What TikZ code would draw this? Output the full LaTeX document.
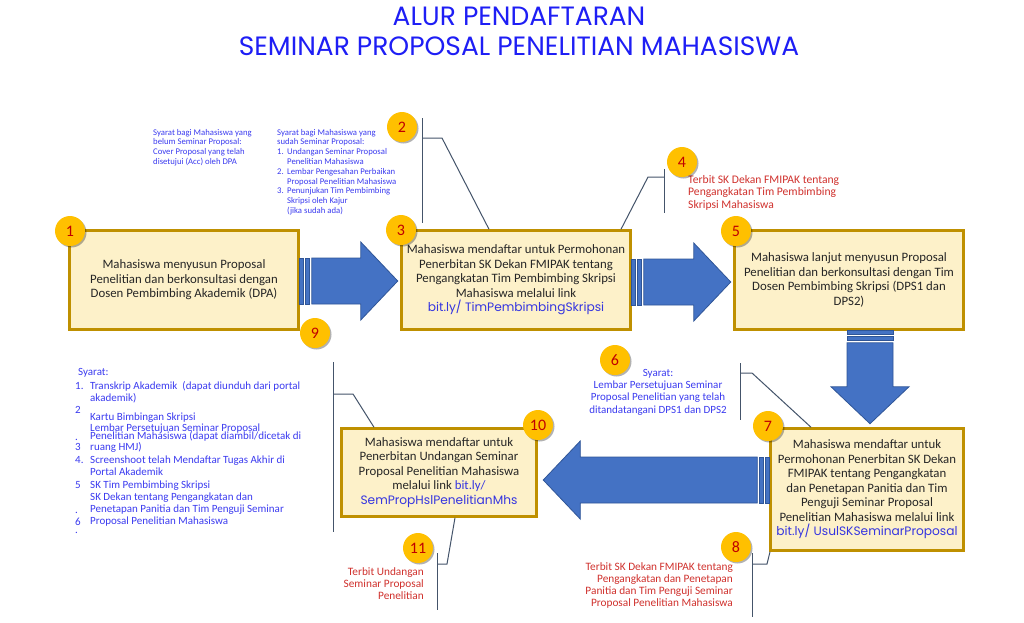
\documentclass[tikz,border=0pt]{standalone}
\usepackage{fontspec}
\setmainfont{Carlito}
\newfontfamily\titlefont{Poppins}
\usetikzlibrary{positioning}
\usetikzlibrary{shadows}
\usetikzlibrary{calc}
\usepackage{xcolor}

\definecolor{boxfill}{HTML}{FDF1C9}
\definecolor{boxline}{HTML}{BF9000}
\definecolor{arrowfill}{HTML}{4472C4}
\definecolor{arrowline}{HTML}{2F5597}
\definecolor{numfill}{HTML}{FFC000}
\definecolor{numtext}{HTML}{C00000}
\definecolor{notered}{HTML}{D0312D}
\definecolor{noteblue}{HTML}{3B3BF0}
\definecolor{linkblue}{HTML}{3535E0}
\definecolor{titleblue}{HTML}{1E1EF5}
\definecolor{calloutline}{HTML}{44546A}

\newcommand{\lnk}[1]{{\titlefont\fontsize{12.2}{14.5}\selectfont\color{linkblue}#1}}
% block arrow: start, rotation, length
\newcommand{\bigarrow}[3]{%
  \begin{scope}[shift={(#1)}, rotate=#2]
    \filldraw[arrowbody] (0,-23) rectangle (4,23);
    \filldraw[arrowbody] (6,-23) rectangle (10,23);
    \filldraw[arrowbody] (12,-23) -- (#3-37,-23) -- (#3-37,-39) -- (#3,0)
      -- (#3-37,39) -- (#3-37,23) -- (12,23) -- cycle;
  \end{scope}}

\begin{document}
\begin{tikzpicture}[x=1pt, y=-1pt,
    box/.style={rectangle, draw=boxline, line width=2.5pt, fill=boxfill, align=center,
      inner sep=0pt, text=black!85, font=\fontsize{12.8}{14.5}\selectfont},
    num/.style={circle, fill=numfill, minimum size=30pt, inner sep=0pt, text=numtext,
      font=\fontsize{16}{16}\selectfont,
      drop shadow={shadow xshift=1.5pt, shadow yshift=-1.5pt, opacity=0.3, fill=black}},
    note/.style={align=left, inner sep=0pt, text=noteblue, font=\fontsize{8.7}{9.8}\selectfont},
    rednote/.style={inner sep=0pt, text=notered, font=\fontsize{11.3}{12.2}\selectfont},
    title/.style={inner sep=0pt, text=titleblue, font=\titlefont\fontsize{26.5}{30}\selectfont},
    arrowbody/.style={fill=arrowfill, draw=arrowline, line width=0.8pt},
    callout/.style={draw=calloutline, line width=1pt}]
    \fill[white] (0,0) rectangle (1024,622);
    \useasboundingbox (0,0) rectangle (1024,622);

    \node[title, anchor=base] (t1) at (519,25) {ALUR PENDAFTARAN};
    \node[title, anchor=base] (t2) at (519,55) {SEMINAR PROPOSAL PENELITIAN MAHASISWA};

    % steps
    \node[box, minimum width=229pt, minimum height=99pt] (b1) at (184,280)
      {Mahasiswa menyusun Proposal\\Penelitian dan berkonsultasi dengan\\Dosen Pembimbing Akademik (DPA)};
    \node[box, minimum width=229pt, minimum height=99pt] (b3) at (516,280)
      {Mahasiswa mendaftar untuk Permohonan\\Penerbitan SK Dekan FMIPAK tentang\\Pengangkatan Tim Pembimbing Skripsi\\Mahasiswa melalui link\\\lnk{bit.ly/ TimPembimbingSkripsi}};
    \node[box, minimum width=229pt, minimum height=99pt] (b5) at (849,280)
      {Mahasiswa lanjut menyusun Proposal\\Penelitian dan berkonsultasi dengan Tim\\Dosen Pembimbing Skripsi (DPS1 dan\\DPS2)};
    \node[box, minimum width=193pt, minimum height=122pt] (b7) at (867,489.5)
      {Mahasiswa mendaftar untuk\\Permohonan Penerbitan SK Dekan\\FMIPAK tentang Pengangkatan\\dan Penetapan Panitia dan Tim\\Penguji Seminar Proposal\\Penelitian Mahasiswa melalui link\\\lnk{bit.ly/ UsulSKSeminarProposal}};
    \node[box, minimum width=195pt, minimum height=88pt] (b10) at (439,472.5)
      {Mahasiswa mendaftar untuk\\Penerbitan Undangan Seminar\\Proposal Penelitian Mahasiswa\\melalui link {\color{linkblue}bit.ly/}\\\lnk{SemPropHslPenelitianMhs}};

    % big arrows
    \bigarrow{b1.east |- 0,281}{0}{98}
    \bigarrow{b3.east |- 0,282}{0}{99}
    \bigarrow{b5.south -| 870,0}{-90}{93}
    \bigarrow{b7.west |- 0,480}{180}{226}

    % callouts
    \coordinate (c2) at (422,138);
    \draw[callout] ($(c2)+(0,-20)$) -- ($(c2)+(0,85)$);
    \draw[callout] (c2) -- ++(20,0) -- (b3.north -| 489,0);
    \coordinate (c4) at (664,177);
    \draw[callout] ($(c4)+(0,-8)$) -- ($(c4)+(0,36)$);
    \draw[callout] (c4) -- ++(-16,0) -- (b3.north -| 621,0);
    \coordinate (c9) at (333,394);
    \draw[callout] ($(c9)+(0,-32)$) -- ($(c9)+(0,138)$);
    \draw[callout] (c9) -- ++(20,0) -- (b10.north -| 374,0);
    \coordinate (c6) at (740,373);
    \draw[callout] ($(c6)+(0,-10)$) -- ($(c6)+(0,47)$);
    \draw[callout] (c6) -- ++(12,0) -- (b7.north -| 811,0);
    \coordinate (c8) at (752,564);
    \draw[callout] ($(c8)+(0,-11)$) -- ($(c8)+(0,53)$);
    \draw[callout] (c8) -- ++(15,0) -- (b7.south -| 770,0);
    \coordinate (c11) at (437,564);
    \draw[callout] ($(c11)+(0,-11)$) -- ($(c11)+(0,46)$);
    \draw[callout] (c11) -- ++(10,0) -- (b10.south -| 455,0);

    % notes (base = last line)
    \node[note, anchor=base west] (s1) at (153,164.4)
      {Syarat bagi Mahasiswa yang\\belum Seminar Proposal:\\Cover Proposal yang telah\\disetujui (Acc) oleh DPA};
    \node[note, anchor=base west] (s2) at (277,213.4)
      {Syarat bagi Mahasiswa yang\\sudah Seminar Proposal:\\
       \makebox[10pt][l]{1.}Undangan Seminar Proposal\\\hspace*{10pt}Penelitian Mahasiswa\\
       \makebox[10pt][l]{2.}Lembar Pengesahan Perbaikan\\\hspace*{10pt}Proposal Penelitian Mahasiswa\\
       \makebox[10pt][l]{3.}Penunjukan Tim Pembimbing\\\hspace*{10pt}Skripsi oleh Kajur\\\hspace*{10pt}(jika sudah ada)};
    \node[note, font=\fontsize{11}{12}\selectfont, anchor=base west] (s9) at (78,375) {Syarat:};
    \node[note, font=\fontsize{11}{12}\selectfont, anchor=base west] (s9n) at (75,533)
      {1.\\[12pt]2\\[15pt].\\[-2pt]3\\[1pt]4.\\[13pt]5\\[13pt].\\6\\[-4pt].};
    \node[note, font=\fontsize{11}{12}\selectfont, anchor=base west] (s9t) at (90,524)
      {Transkrip Akademik\ \ (dapat diunduh dari portal\\akademik)\\[7pt]Kartu Bimbingan Skripsi\\[-1pt]
       Lembar Persetujuan Seminar Proposal\\[-4pt]Penelitian Mahasiswa (dapat diambil/dicetak di\\[-1pt]
       ruang HMJ)\\[1pt]Screenshoot telah Mendaftar Tugas Akhir di\\Portal Akademik\\[1pt]
       SK Tim Pembimbing Skripsi\\SK Dekan tentang Pengangkatan dan\\Penetapan Panitia dan Tim Penguji Seminar\\
       Proposal Penelitian Mahasiswa};
    \node[note, align=center, font=\fontsize{11}{12.3}\selectfont, anchor=base] (s6) at (658,413)
      {Syarat:\\Lembar Persetujuan Seminar\\Proposal Penelitian yang telah\\ditandatangani DPS1 dan DPS2};
    \node[rednote, align=left, font=\fontsize{11.6}{12.5}\selectfont, anchor=base west] (r4) at (688,208)
      {Terbit SK Dekan FMIPAK tentang\\Pengangkatan Tim Pembimbing\\Skripsi Mahasiswa};
    \node[rednote, align=right, anchor=base east] (r8) at (733,606.6)
      {Terbit SK Dekan FMIPAK tentang\\Pengangkatan dan Penetapan\\Panitia dan Tim Penguji Seminar\\Proposal Penelitian Mahasiswa};
    \node[rednote, align=right, anchor=base east] (r11) at (424,599.4)
      {Terbit Undangan\\Seminar Proposal\\Penelitian};

    % numbers
    \node[num] (n1) at (70,231) {1};
    \node[num] (n2) at (402,127) {2};
    \node[num] (n3) at (401,230) {3};
    \node[num] (n4) at (682,162) {4};
    \node[num] (n5) at (736,231) {5};
    \node[num] (n6) at (615,360) {6};
    \node[num] (n7) at (768,426) {7};
    \node[num] (n8) at (736,547) {8};
    \node[num] (n9) at (315,333) {9};
    \node[num] (n10) at (538,425) {10};
    \node[num] (n11) at (418,548) {11};
\end{tikzpicture}
\end{document}
